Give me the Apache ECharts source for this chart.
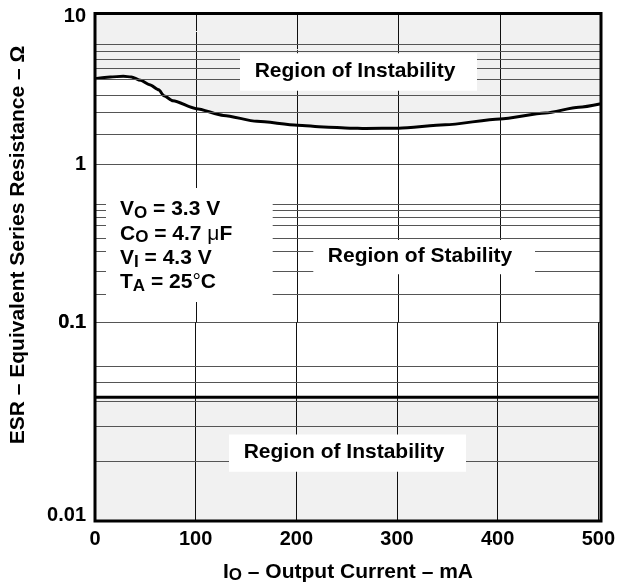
<!DOCTYPE html>
<html><head><meta charset="utf-8">
<script src="https://cdn.jsdelivr.net/npm/echarts@6/dist/echarts.min.js"></script>
<style>html,body{margin:0;padding:0;background:#fff}#c{width:618px;height:586px}</style>
</head><body><div id="c"></div>
<script>
// ---- data ----
const current  = [0, 15, 28, 36, 45, 54, 63, 68, 77, 100, 127, 160, 200, 226, 252, 267, 300, 346, 400, 445, 478, 500];
const esrUpper = [3.68, 3.78, 3.82, 3.78, 3.59, 3.36, 3.11, 2.84, 2.63, 2.33, 2.10, 1.92, 1.81, 1.76, 1.73, 1.72, 1.73, 1.82, 1.99, 2.18, 2.38, 2.51];
const lowerCurrent = [0, 500];
const esrLower = [0.042, 0.042];
const artifactCurrent = [0, 500];
const artifactEsr = [10, 2.5];
const yTickValues = [10, 1, 0.1, 0.01];
const yTickLabels = ['10', '1', '0.1', '0.01'];
const xTickLabels = ['0', '100', '200', '300', '400', '500'];
const minorTop = [6.19, 5.59, 4.92, 4.29, 3.63, 2.88, 2.22, 1.58];
const minorMid = [0.565, 0.512, 0.461, 0.406, 0.337, 0.275, 0.214, 0.155];
const minorBot = [0.0633, 0.0587, 0.0532, 0.0480, 0.0421, 0.0352, 0.0290, 0.0223, 0.0158];

const FONT = '"Liberation Sans", Arial, Helvetica, sans-serif';
const chart = echarts.init(document.getElementById('c'), null, {renderer: 'canvas'});
const L = 95, W = 506;
const decades = [
  {top: 13.3, height: 150.7, min: 1, max: 10},
  {top: 164, height: 158.3, min: 0.1, max: 1},
  {top: 322.3, height: 198.7, min: 0.01, max: 0.1}
];
const zip = (a, b) => a.map((v, i) => [v, b[i]]);
const tickLabel = v => {
  const i = yTickValues.findIndex(t => Math.abs(Math.log10(v) - Math.log10(t)) < 1e-6);
  if (i < 0) return '';
  const key = i === 0 ? 't' : (i === yTickValues.length - 1 ? 'b' : 'n');
  return '{' + key + '|' + yTickLabels[i] + '}';
};
const labelFont = {fontSize: 20, fontWeight: 'bold', fontFamily: FONT, color: '#000'};
const minorLines = vals => ({
  silent: true, symbol: 'none', animation: false,
  label: {show: false},
  lineStyle: {color: '#555', width: 1, type: 'solid'},
  emphasis: {disabled: true},
  data: vals.map(v => ({yAxis: v}))
});
const fill = 'rgba(0,0,0,0.078)';

const grids = decades.map(d => ({left: L, width: W, top: d.top, height: d.height, containLabel: false}));
grids.push({left: L, width: W, top: 13.5, height: 507.5, show: true, borderColor: '#000', borderWidth: 3, backgroundColor: 'transparent', z: 20});

const xAxes = decades.map((d, i) => ({
  type: 'value', gridIndex: i, min: 0, max: 500, interval: 100,
  axisLine: {show: false}, axisTick: {show: false},
  axisLabel: Object.assign({show: i === 2, margin: 8, formatter: v => xTickLabels[Math.round(v / 100)]}, labelFont),
  splitLine: {show: true, lineStyle: {color: '#111', width: 1}}
}));
xAxes.push({type: 'value', gridIndex: 3, min: 0, max: 500, show: false});

const yAxes = decades.map((d, i) => ({
  type: 'log', logBase: 10, gridIndex: i, min: d.min, max: d.max,
  axisLine: {show: false}, axisTick: {show: false},
  axisLabel: Object.assign({show: true, showMaxLabel: i === 0, showMinLabel: true, margin: 9, formatter: tickLabel,
    rich: {
      t: Object.assign({padding: [7, 0, 0, 0]}, labelFont),
      b: Object.assign({padding: [0, 0, 12, 0]}, labelFont),
      n: Object.assign({}, labelFont)
    }}, labelFont),
  splitLine: {show: true, lineStyle: {color: '#555', width: 1}}
}));
yAxes.push({type: 'value', gridIndex: 3, min: 0, max: 1, show: false});

const boxText = (x, y, w, h, tx, ty, text) => ([
  {type: 'rect', shape: {x: x, y: y, width: w, height: h}, style: {fill: '#fff'}, z: 50},
  {type: 'text', x: tx, y: ty, z: 51, style: {text: text, align: 'center', verticalAlign: 'middle',
    fill: '#000', font: 'bold 21px ' + FONT}}
]);

const option = {
  animation: false,
  grid: grids, xAxis: xAxes, yAxis: yAxes,
  series: [
    {type: 'line', xAxisIndex: 0, yAxisIndex: 0, data: zip(artifactCurrent, artifactEsr),
      symbol: 'none', silent: true, z: 1,
      lineStyle: {color: '#ffffff', width: 1, type: [3, 3]}},
    {type: 'line', xAxisIndex: 0, yAxisIndex: 0, data: zip(current, esrUpper),
      symbol: 'none', smooth: 0.25, smoothMonotone: 'x', silent: true, z: 3,
      lineStyle: {color: '#000', width: 3},
      areaStyle: {origin: 'end', color: fill},
      markLine: minorLines(minorTop)},
    {type: 'line', xAxisIndex: 1, yAxisIndex: 1, data: [], symbol: 'none', silent: true,
      markLine: minorLines(minorMid)},
    {type: 'line', xAxisIndex: 2, yAxisIndex: 2, data: zip(lowerCurrent, esrLower),
      symbol: 'none', silent: true, z: 3,
      lineStyle: {color: '#000', width: 3},
      areaStyle: {origin: 'start', color: fill},
      markLine: minorLines(minorBot)}
  ],
  graphic: [
    ...boxText(240, 53.3, 237, 37.4, 355, 71, 'Region of Instability'),
    ...boxText(313.3, 240, 221.7, 34.3, 420, 256.5, 'Region of Stability'),
    ...boxText(229, 434.5, 237, 37.2, 344, 452, 'Region of Instability'),
    {type: 'rect', shape: {x: 106, y: 188, width: 166.7, height: 114}, style: {fill: '#fff'}, z: 50},
    {type: 'text', x: 120, y: 197.2, z: 51, style: {
      text: '{m|V}{s|O}{m| = 3.3 V}\n{m|C}{s|O}{m| = 4.7 }{u|μ}{m|F}\n{m|V}{s|I}{m| = 4.3 V}\n{m|T}{s|A}{m| = 25}{u|°}{m|C}',
      align: 'left', verticalAlign: 'top', fill: '#000',
      rich: {
        m: {fontSize: 21, fontWeight: 'bold', fontFamily: FONT, lineHeight: 24.4, fill: '#000'},
        s: {fontSize: 17, fontWeight: 'bold', fontFamily: FONT, lineHeight: 10, verticalAlign: 'bottom', fill: '#000'},
        u: {fontSize: 21, fontWeight: 'normal', fontFamily: FONT, lineHeight: 24.4, fill: '#000'}
      }}},
    {type: 'text', x: 348, y: 572, z: 51, style: {
      text: '{m|I}{s|O}{m| – Output Current – mA}', align: 'center', verticalAlign: 'middle', fill: '#000',
      rich: {
        m: {fontSize: 21, fontWeight: 'bold', fontFamily: FONT, lineHeight: 24, fill: '#000'},
        s: {fontSize: 17, fontWeight: 'bold', fontFamily: FONT, lineHeight: 10, verticalAlign: 'bottom', fill: '#000'}
      }}},
    {type: 'text', x: 18, y: 245, rotation: Math.PI / 2, z: 51, style: {
      text: 'ESR – Equivalent Series Resistance – Ω', align: 'center', verticalAlign: 'middle',
      fill: '#000', font: 'bold 21px ' + FONT}}
  ]
};
chart.setOption(option);
</script>
</body></html>
